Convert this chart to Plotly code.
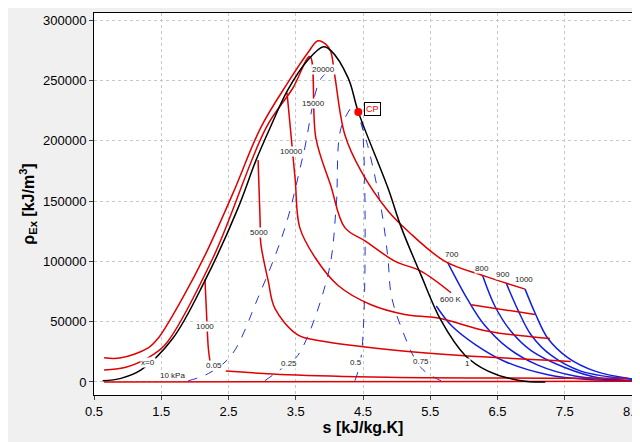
import plotly.graph_objects as go

# entropy s [kJ/kg.K] and exergy density rho_Ex [kJ/m3] (read in thousands)
dome_s = [0.63, 0.90, 1.20, 1.67, 2.15, 2.64, 2.91, 3.12, 3.38, 3.68, 3.91, 4.02, 4.28, 4.43,
          4.87, 5.07, 5.36, 5.66, 6.02, 6.36, 6.85, 7.21]
dome_r = [1, 3, 10, 36, 84, 144, 184, 211, 242, 267, 278, 275, 252, 224,
          161, 128, 89, 51, 22, 9, 1, 0]

# isobars [kPa] (None = gap for label)
isobars = {
    "20000": ([0.65, 0.90, 1.30, 1.45, 1.82, 2.15, 2.57, 2.98, 3.38, 3.68, 3.83, 3.95, 4.02, 4.08,
               4.23, 4.47, 4.87, 5.17, 5.72, 6.30, 6.91],
              [20, 20, 28, 36, 70, 105, 157, 211, 248, 273, 283, 280, 274, 254,
               205, 175, 142, 125, 100, 88, 77]),
    "15000": ([0.65, 0.96, 1.30, 1.56, 2.27, 3.06, 3.46, 3.71, 3.80, 4.02, 4.23, 4.53, 4.98, 5.36,
               5.81, None, 6.11, 7.06],
              [10, 12, 20, 31, 103, 211, 244, 270, 202, 163, 128, 117, 100, 92,
               74, None, 64, 56]),
    "10000": ([3.37, 3.49, 3.56, 3.79, 4.13, 4.62, 5.12, 5.62, 6.36, 7.28],
              [240, 169, 128, 103, 80, 64, 56, 53, 42, 36]),
    "5000": ([2.94, 2.97, 2.98, 3.09, 3.19, 3.53, 3.88, 4.87, 5.96, 7.59],
             [184, 134, 115, 84, 61, 39, 34, 27, 22, 17]),
    "1000": ([2.15, 2.17, 2.20, 2.23, None, 2.46, 3.38, 4.87, 8.44],
             [85, 61, 28, 15, None, 9, 6, 4, 3]),
    "10": ([0.65, 8.55], [0, 0.5]),
}

# isotherms [K]
isotherms = {
    "600": ([5.59, 5.81, 6.17, 6.61, 7.25, 7.85, 8.55], [63, 47, 31, 17, 6, 2, 1]),
    "700": ([5.76, 6.06, 6.31, 6.66, 7.10, 7.65, 8.55], [99, 68, 47, 28, 14, 5, 1]),
    "800": ([6.28, 6.46, 6.70, 7.00, 7.50, 8.04, 8.55], [88, 63, 42, 26, 12, 3, 1]),
    "900": ([6.63, 6.81, 7.00, 7.30, 7.74, 8.55], [82, 59, 39, 22, 9, 2]),
    "1000": ([6.91, 7.06, 7.25, 7.55, 7.95, 8.55], [77, 57, 36, 20, 9, 2]),
}

# lines of constant quality x
qualities = {
    "0.05": ([1.90, 2.20, 2.54, 2.94, 3.34, 3.61, 3.88, 4.08], [1, 7, 22, 70, 128, 188, 252, 260]),
    "0.25": ([3.04, 3.31, 3.53, 3.98, 4.10, 4.17, 4.35], [1, 12, 22, 89, 144, 210, 230]),
    "0.5": ([4.38, 4.47, 4.53, 4.47, 4.43], [1, 20, 144, 219, 224]),
    "0.75": ([5.66, 5.36, 5.07, 4.92, 4.87, 4.77, 4.57, 4.43], [1, 12, 45, 72, 103, 144, 196, 221]),
}

cp_s, cp_r = 4.43, 224

labels = [
    ("x=0", 1.30, 16), ("10 kPa", 1.67, 5), ("0.05", 2.28, 14), ("0.25", 3.40, 15),
    ("0.5", 4.40, 16), ("0.75", 5.36, 17), ("1", 6.06, 15), ("1000", 2.15, 46),
    ("5000", 2.95, 124), ("10000", 3.43, 191), ("15000", 3.76, 231), ("20000", 3.91, 259),
    ("600 K", 5.81, 68), ("700", 5.82, 106), ("800", 6.27, 94), ("900", 6.58, 89),
    ("1000", 6.89, 85),
]


def k(vals):
    return [None if v is None else v * 1000 for v in vals]


fig = go.Figure()
for name, (s, r) in qualities.items():
    fig.add_trace(go.Scatter(x=s, y=k(r), mode="lines", line=dict(color="#2233dd", width=1, dash="dash"),
                             line_shape="spline"))
for name, (s, r) in isotherms.items():
    fig.add_trace(go.Scatter(x=s, y=k(r), mode="lines", line=dict(color="#1020e0", width=1.5),
                             line_shape="spline"))
for name, (s, r) in isobars.items():
    fig.add_trace(go.Scatter(x=s, y=k(r), mode="lines", line=dict(color="#e00000", width=1.5),
                             line_shape="spline", connectgaps=False))
fig.add_trace(go.Scatter(x=dome_s, y=k(dome_r), mode="lines", line=dict(color="black", width=1.5),
                         line_shape="spline"))
fig.add_trace(go.Scatter(x=[cp_s], y=[cp_r * 1000], mode="markers",
                         marker=dict(color="red", size=8)))

for txt, s, r in labels:
    fig.add_annotation(x=s, y=r * 1000, text=txt, showarrow=False, bgcolor="white",
                       font=dict(size=8, color="#222", family="Arial"), borderpad=0)
fig.add_annotation(x=cp_s, y=cp_r * 1000, text="CP", showarrow=False, xshift=14, yshift=3,
                   bgcolor="white", bordercolor="black", borderwidth=1, borderpad=1,
                   font=dict(size=9, color="red", family="Arial"))

axis = dict(showline=True, linecolor="black", mirror=True, ticks="outside", ticklen=4,
            gridcolor="#c8c8c8", griddash="dot", zeroline=False,
            tickfont=dict(size=13, color="black", family="Arial"))
fig.update_xaxes(axis, range=[0.5, 8.5], tick0=0.5, dtick=1,
                 title=dict(text="<b>s [kJ/kg.K]</b>", font=dict(size=16, color="black", family="Arial"),
                            standoff=4))
fig.update_yaxes(axis, range=[-10800, 306000], tick0=0, dtick=50000, tickformat="d",
                 title=dict(text="<b>ρ<sub>Ex</sub> [kJ/m<sup>3</sup>]</b>",
                            font=dict(size=16, color="black", family="Arial"), standoff=4))
fig.update_layout(width=640, height=442, showlegend=False, paper_bgcolor="#f0f0f0",
                  plot_bgcolor="white", margin=dict(l=86, r=16, t=5, b=55))
fig.write_html("out.html")
